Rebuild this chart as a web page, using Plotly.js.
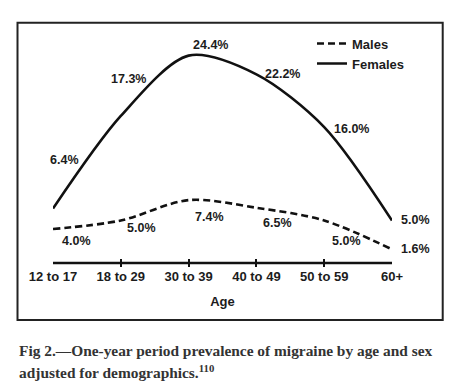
<!DOCTYPE html>
<html>
<head>
<meta charset="utf-8">
<script src="https://cdn.plot.ly/plotly-3.0.1.min.js"></script>
<style>
html,body{margin:0;padding:0;background:#fff;}
#chart{width:459px;height:392px;}
</style>
</head>
<body>
<div id="chart"></div>
<script>
// ---- data ----
var ageGroups = ["12 to 17", "18 to 29", "30 to 39", "40 to 49", "50 to 59", "60+"];
var malesPct = [4.0, 5.0, 7.4, 6.5, 5.0, 1.6];
var femalesPct = [6.4, 17.3, 24.4, 22.2, 16.0, 5.0];
var seriesNames = ["Males", "Females"];
var xTitle = "Age";
var captionLine1 = "Fig 2.\u2014One-year period prevalence of migraine by age and sex";
var captionLine2 = "adjusted for demographics.<sup>110</sup>";

// ---- label offsets (style only) ----
var femShift = [[11, 49], [8, 37], [22, 11], [26, 0], [27, -2], [23, 1]];
var maleShift = [[23, -12], [21, -7], [21, -17], [21, -15], [22, -20], [23, 0]];

var sans = "Liberation Sans, Arial, Helvetica, sans-serif";
var serif = "Liberation Serif, Times New Roman, serif";
var ink = "#1c1c1c";

var traces = [
  {
    x: ageGroups, y: malesPct, name: seriesNames[0], type: "scatter", mode: "lines",
    line: {color: "#111", width: 2.6, dash: "7px,4px", shape: "spline", smoothing: 0.9},
    cliponaxis: false, hoverinfo: "skip"
  },
  {
    x: ageGroups, y: femalesPct, name: seriesNames[1], type: "scatter", mode: "lines",
    line: {color: "#111", width: 2.6, shape: "spline", smoothing: 0.85},
    cliponaxis: false, hoverinfo: "skip"
  }
];

var annotations = [];
function addLabels(vals, shifts) {
  for (var i = 0; i < vals.length; i++) {
    annotations.push({
      x: ageGroups[i], y: vals[i], xref: "x", yref: "y",
      text: vals[i].toFixed(1) + "%", showarrow: false,
      xanchor: "center", yanchor: "middle",
      xshift: shifts[i][0], yshift: shifts[i][1],
      font: {family: sans, size: 12.5, color: ink, weight: "bold"}
    });
  }
}
addLabels(femalesPct, femShift);
addLabels(malesPct, maleShift);

annotations.push({
  xref: "paper", yref: "paper", x: -0.106, y: -0.344, xanchor: "left", yanchor: "middle",
  text: captionLine1, showarrow: false,
  font: {family: serif, size: 15.4, color: "#333", weight: "bold"}
});
annotations.push({
  xref: "paper", yref: "paper", x: -0.106, y: -0.430, xanchor: "left", yanchor: "middle",
  text: captionLine2, showarrow: false,
  font: {family: serif, size: 15.4, color: "#333", weight: "bold"}
});

var layout = {
  width: 459, height: 392,
  margin: {l: 53, r: 67, t: 23, b: 125, autoexpand: false},
  paper_bgcolor: "#fff", plot_bgcolor: "rgba(0,0,0,0)",
  showlegend: true,
  legend: {
    x: 0.764, y: 0.977, xanchor: "left", yanchor: "top",
    bgcolor: "rgba(0,0,0,0)",
    font: {family: sans, size: 13, color: ink, weight: "bold"},
    tracegroupgap: 0
  },
  xaxis: {
    type: "category", range: [0, 5], automargin: false,
    showline: false,
    ticks: "inside", ticklen: 8, tickwidth: 2, tickcolor: "#111",
    showgrid: false, zeroline: false,
    tickfont: {family: sans, size: 13, color: ink, weight: "bold"},
    title: {text: xTitle, font: {family: sans, size: 13, color: ink, weight: "bold"}, standoff: 13},
    fixedrange: true
  },
  yaxis: {
    range: [-0.47, 28.24], automargin: false,
    showticklabels: false, ticks: "",
    showgrid: false, showline: false, zeroline: false,
    fixedrange: true
  },
  shapes: [
    {
      type: "rect", xref: "paper", yref: "paper",
      x0: -0.1047, x1: 1.1496, y0: -0.2172, y1: 1.0012,
      line: {color: "#222", width: 2}, fillcolor: "rgba(0,0,0,0)"
    },
    {
      // horizontal axis line at 0 %, spanning the first to the last age group
      type: "line", xref: "paper", yref: "y", layer: "above",
      x0: 0, x1: 1, y0: 0, y1: 0,
      line: {color: "#111", width: 2.5}
    }
  ],
  annotations: annotations
};

Plotly.newPlot("chart", traces, layout, {staticPlot: true, displayModeBar: false});
</script>
</body>
</html>
